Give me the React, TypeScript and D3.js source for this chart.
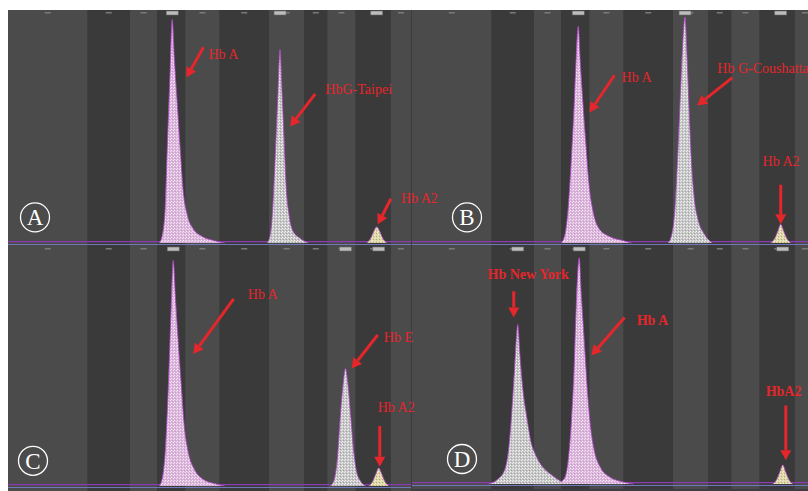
import React from 'react';
import * as d3 from 'd3';

// zone boundaries (migration units, same for every run)
const zoneEdges = [0, 79, 121, 148, 176, 210, 259, 294, 317, 345, 380, 400];

// peaks: [migration, intensity %]
const peaksA = [
    { name: 'Hb A', tone: 'pink', pts: [[150, 0], [153, 3], [156, 15], [158, 40], [161, 75], [163, 96], [165, 80], [168, 60], [171, 40], [174, 22], [178, 12], [184, 6], [192, 3], [205, 1], [215, 0]] },
    { name: 'HbG-Taipei', tone: 'gray', pts: [[257, 0], [260, 3], [262, 10], [265, 35], [268, 65], [270, 83], [272, 65], [274, 45], [276, 25], [279, 12], [283, 5], [290, 2], [298, 0]] },
    { name: 'Hb A2', tone: 'yellow', pts: [[356, 0], [360, 2], [363, 5], [366, 7], [369, 5], [372, 2], [376, 0]] },
];
const peaksB = [
    { name: 'Hb A', tone: 'pink', pts: [[148, 0], [152, 4], [155, 15], [158, 35], [161, 60], [163, 80], [165, 93], [167, 78], [170, 58], [173, 40], [176, 24], [180, 13], [186, 6], [195, 3], [210, 1], [218, 0]] },
    { name: 'Hb G-Coushatta', tone: 'gray', pts: [[254, 0], [258, 4], [261, 15], [264, 40], [267, 70], [269, 88], [271, 97], [273, 80], [275, 58], [277, 38], [280, 20], [284, 10], [290, 4], [298, 0]] },
    { name: 'Hb A2', tone: 'yellow', pts: [[356, 0], [360, 2], [363, 5], [366, 8], [369, 5], [372, 2], [376, 0]] },
];
const peaksC = [
    { name: 'Hb A', tone: 'pink', pts: [[150, 0], [153, 3], [156, 14], [159, 40], [162, 75], [164, 94], [166, 80], [169, 60], [172, 42], [175, 25], [179, 14], [185, 7], [193, 3], [205, 1], [215, 0]] },
    { name: 'Hb E', tone: 'gray', pts: [[320, 0], [324, 3], [327, 12], [330, 30], [333, 44], [335, 49], [337, 44], [340, 30], [343, 15], [346, 6], [350, 2], [355, 0]] },
    { name: 'Hb A2', tone: 'yellow', pts: [[358, 0], [362, 2], [365, 5], [368, 7.5], [371, 5], [374, 2], [378, 0]] },
];
const peaksD = [
    { name: 'Hb New York', tone: 'gray', pts: [[76, 0], [85, 2], [92, 6], [96, 15], [99, 30], [102, 50], [105, 67], [107, 55], [110, 40], [114, 28], [118, 18], [123, 12], [130, 7], [138, 4], [148, 1]] },
    { name: 'Hb A', tone: 'pink', pts: [[148, 1], [152, 3], [155, 10], [158, 25], [161, 50], [163, 75], [166, 95], [168, 80], [171, 60], [174, 40], [177, 25], [181, 14], [187, 7], [196, 3], [208, 1], [220, 0]] },
    { name: 'HbA2', tone: 'yellow', pts: [[358, 0], [362, 2], [365, 5], [368, 8], [371, 5], [374, 2], [378, 0]] },
];

// annotations: label anchor and arrow, in migration / intensity units
const notesA = [
    { text: 'Hb A', at: [199, 79], from: [194, 84], to: [177, 71] },
    { text: 'HbG-Taipei', at: [315, 64], from: [305, 64], to: [280, 50] },
    { text: 'Hb A2', at: [390, 17], from: [380, 19], to: [367, 8] },
];
const notesB = [
    { text: 'Hb A', at: [208, 69], from: [201, 72], to: [176, 56] },
    { text: 'Hb G-Coushatta', at: [303, 73], from: [318, 71], to: [283, 59] },
    { text: 'Hb A2', at: [348, 33], from: [366, 25], to: [366, 8] },
];
const notesC = [
    { text: 'Hb A', at: [238, 78], from: [224, 78], to: [184, 55] },
    { text: 'Hb E', at: [373, 60], from: [367, 63], to: [341, 49] },
    { text: 'Hb A2', at: [367, 31], from: [369, 25], to: [369, 8] },
];
const notesD = [
    { text: 'Hb New York', at: [75, 86], from: [101, 81], to: [101, 70] },
    { text: 'Hb A', at: [223, 67], from: [211, 70], to: [178, 54] },
    { text: 'HbA2', at: [351, 37], from: [371, 33], to: [371, 10] },
];

const panels = [
    { id: 'A', peaks: peaksA, notes: notesA, bold: false, box: { x: 8, y: 10, w: 403, h: 233 }, badge: [27, 11] },
    { id: 'B', peaks: peaksB, notes: notesB, bold: false, box: { x: 412, y: 10, w: 396, h: 233 }, badge: [55, 11] },
    { id: 'C', peaks: peaksC, notes: notesC, bold: false, box: { x: 8, y: 246, w: 403, h: 240 }, badge: [25, 10.5] },
    { id: 'D', peaks: peaksD, notes: notesD, bold: true, box: { x: 412, y: 246, w: 396, h: 238 }, badge: [50, 10.5] },
];

const toneFill = { pink: 'url(#texPink)', gray: 'url(#texGray)', yellow: 'url(#texYellow)' };
const red = '#e5262b';

function scalesFor(p) {
    const { x: bx, y: by, h } = p.box;
    return {
        x: d3.scaleLinear().domain([0, 400]).range([bx, bx + 403]),
        y: d3.scaleLinear().domain([0, 100]).range([by + h, by]),
    };
}

function Panel({ p }) {
    const { x: bx, y: by, w, h } = p.box;
    const { x, y } = scalesFor(p);
    const area = d3.area().x(d => x(d[0])).y0(y(0)).y1(d => y(d[1])).curve(d3.curveMonotoneX);
    const line = d3.line().x(d => x(d[0])).y(d => y(d[1])).curve(d3.curveMonotoneX);
    const bands = d3.pairs(zoneEdges);
    const tops = p.peaks.map(pk => d3.greatest(pk.pts, d => d[1])[0]);

    return (
        <g>
            <clipPath id={'clip' + p.id}>
                <rect x={bx} y={by} width={w} height={h + 5} />
            </clipPath>
            <g clipPath={`url(#clip${p.id})`}>
                {bands.map(([a, b], i) => (
                    <rect key={i} x={x(a)} y={by} width={x(b) - x(a)} height={h + 5}
                        fill={i % 2 ? '#3a3a3a' : '#4b4b4b'} />
                ))}
                {/* top zone marks */}
                {bands.map(([a, b], i) => (
                    <rect key={'t' + i} x={x((a + b) / 2) - 3} y={by + 2} width={6} height={1.5} fill="#7a7a7a" />
                ))}
                {tops.map((t, i) => (
                    <rect key={'b' + i} x={x(t) - 6} y={by + 1} width={12} height={4} fill="#bdbdbd" stroke="#666" strokeWidth={0.6} />
                ))}
                <line x1={bx} x2={bx + w} y1={y(0.6)} y2={y(0.6)} stroke="#8c3cb0" strokeWidth={1.2} />
                {p.peaks.map((pk, i) => (
                    <g key={i}>
                        <path d={area(pk.pts)} fill={toneFill[pk.tone]} />
                        <path d={line(pk.pts)} fill="none" stroke="#a840c0" strokeWidth={0.8} />
                    </g>
                ))}
                <line x1={bx} x2={bx + w} y1={by + h + 1.5} y2={by + h + 1.5} stroke="#6f78b8" strokeWidth={1.2} />
            </g>
            <circle cx={bx + p.badge[0]} cy={y(p.badge[1])} r={14.5} fill="none" stroke="#fff" strokeWidth={1.3} />
            <text x={bx + p.badge[0]} y={y(p.badge[1]) + 8} textAnchor="middle" fill="#fff"
                fontFamily="'Liberation Serif', serif" fontSize={23}>{p.id}</text>
        </g>
    );
}

function Notes({ p }) {
    const { x, y } = scalesFor(p);
    return (
        <g>
            {p.notes.map((n, i) => {
                const x1 = x(n.from[0]), y1 = y(n.from[1]), x2 = x(n.to[0]), y2 = y(n.to[1]);
                const ang = Math.atan2(y2 - y1, x2 - x1);
                const hl = 10, hw = 5.5;
                const bxh = x2 - hl * Math.cos(ang), byh = y2 - hl * Math.sin(ang);
                const head = [
                    [x2, y2],
                    [bxh + hw * Math.sin(ang), byh - hw * Math.cos(ang)],
                    [bxh - hw * Math.sin(ang), byh + hw * Math.cos(ang)],
                ];
                return (
                    <g key={i}>
                        <line x1={x1} y1={y1} x2={bxh} y2={byh} stroke={red} strokeWidth={3} />
                        <polygon points={head.map(q => q.join(',')).join(' ')} fill={red} />
                        <text x={x(n.at[0])} y={y(n.at[1])} fill={red} fontFamily="'Liberation Serif', serif"
                            fontSize={14} fontWeight={p.bold ? 'bold' : 'normal'}>{n.text}</text>
                    </g>
                );
            })}
        </g>
    );
}

export default function App() {
    return (
        <svg width={808} height={491} style={{ position: 'absolute', left: 0, top: 0, background: '#fff' }}>
            <defs>
                <pattern id="texPink" width={3} height={3} patternUnits="userSpaceOnUse">
                    <rect width={3} height={3} fill="#dab4da" />
                    <rect x={0} y={0} width={1} height={1} fill="#f6eaf6" />
                    <rect x={2} y={1} width={1} height={1} fill="#f0e0f0" />
                    <rect x={1} y={2} width={1} height={1} fill="#c8a0ca" />
                </pattern>
                <pattern id="texGray" width={3} height={3} patternUnits="userSpaceOnUse">
                    <rect width={3} height={3} fill="#c6c6c6" />
                    <rect x={0} y={0} width={1} height={1} fill="#f2f2f2" />
                    <rect x={2} y={1} width={1} height={1} fill="#eaeaea" />
                    <rect x={1} y={2} width={1} height={1} fill="#a4a4a4" />
                </pattern>
                <pattern id="texYellow" width={3} height={3} patternUnits="userSpaceOnUse">
                    <rect width={3} height={3} fill="#dcd5a4" />
                    <rect x={0} y={0} width={1} height={1} fill="#f4f0d4" />
                    <rect x={2} y={1} width={1} height={1} fill="#eee8c4" />
                    <rect x={1} y={2} width={1} height={1} fill="#b4ac80" />
                </pattern>
            </defs>
            <rect x={8} y={10} width={800} height={481} fill="#3c3c44" />
            {panels.map(p => <Panel key={p.id} p={p} />)}
            {panels.map(p => <Notes key={'n' + p.id} p={p} />)}
        </svg>
    );
}
